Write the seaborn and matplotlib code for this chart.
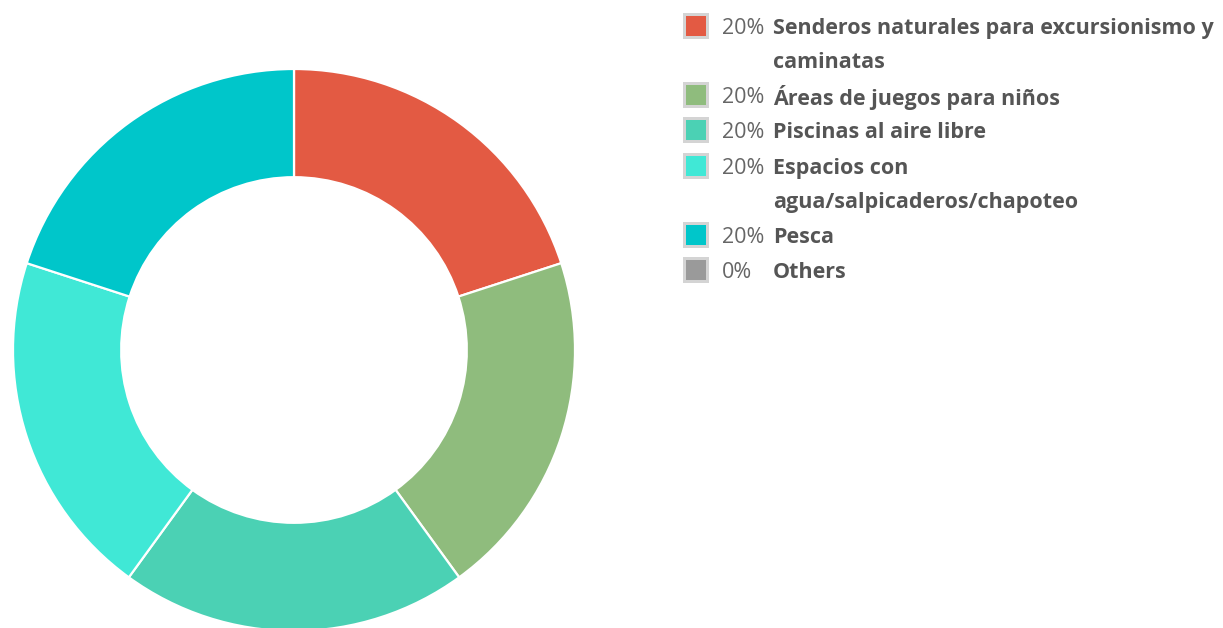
import matplotlib
matplotlib.use("Agg")
import matplotlib.pyplot as plt
from matplotlib.patches import Rectangle
import seaborn as sns

categories = [
    "Senderos naturales para excursionismo y\ncaminatas",
    "Áreas de juegos para niños",
    "Piscinas al aire libre",
    "Espacios con\nagua/salpicaderos/chapoteo",
    "Pesca",
    "Others",
]
values = [20, 20, 20, 20, 20, 0]
pct_labels = ["20%", "20%", "20%", "20%", "20%", "0%"]
colors = ["#E35A43", "#8FBC7D", "#4BD1B4", "#40E8D6", "#00C6CA", "#9A9A9A"]

sns.set_theme(style="white")
plt.rcParams["font.family"] = ["Open Sans", "DejaVu Sans"]

W, H = 1223, 628
fig = plt.figure(figsize=(W / 100, H / 100), dpi=100)
fig.patch.set_facecolor("white")

cx, cy, R = 294, 350, 281
ax = fig.add_axes([(cx - R) / W, (H - cy - R) / H, 2 * R / W, 2 * R / H])
pv = [v for v in values if v > 0]
pc = [c for v, c in zip(values, colors) if v > 0]
ax.pie(pv, colors=pc, startangle=90, counterclock=False, radius=1.0,
       wedgeprops=dict(width=0.385, edgecolor="white", linewidth=1.6))
ax.set_xlim(-1, 1)
ax.set_ylim(-1, 1)
ax.set_aspect("equal")
ax.axis("off")

# legend
row_y = [26, 95, 130, 166, 235, 270]
line_gap = 34
box_x, box_size = 683, 26
for i, (lab, pct, col) in enumerate(zip(categories, pct_labels, colors)):
    yc = row_y[i]
    fig.patches.append(Rectangle(((box_x) / W, (H - yc - box_size / 2) / H),
                                 box_size / W, box_size / H,
                                 transform=fig.transFigure, facecolor="#D4D4D4",
                                 edgecolor="none"))
    inner = 20
    fig.patches.append(Rectangle(((box_x + 3) / W, (H - yc - inner / 2) / H),
                                 inner / W, inner / H,
                                 transform=fig.transFigure, facecolor=col,
                                 edgecolor="none"))
    fig.text(722 / W, (H - yc) / H, pct, fontsize=15.5, color="#666666",
             va="center_baseline", ha="left")
    for k, line in enumerate(lab.split("\n")):
        fig.text(773 / W, (H - yc - k * line_gap) / H, line, fontsize=15.5,
                 color="#555555", fontweight="bold", va="center_baseline",
                 ha="left")

fig.savefig("out.png", dpi=100, facecolor="white")
